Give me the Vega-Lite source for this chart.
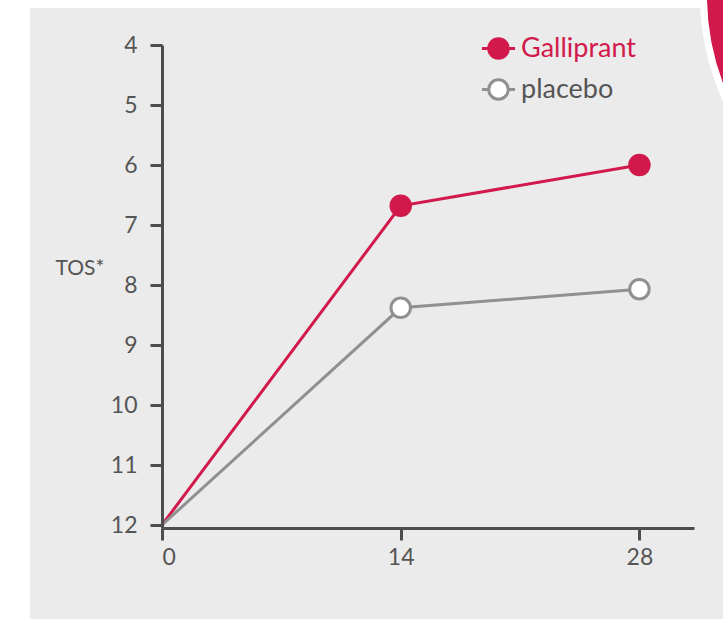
{
  "$schema": "https://vega.github.io/schema/vega-lite/v6.json",
  "autosize": {"type": "none"},
  "padding": {"left": 162, "top": 45, "right": 29, "bottom": 91},
  "width": 532,
  "height": 483,
  "background": "#ffffff",
  "config": {
    "view": {"stroke": null},
    "font": "Lato",
    "axis": {
      "grid": false,
      "domainColor": "#4d4d4d",
      "domainWidth": 3,
      "tickColor": "#4d4d4d",
      "tickWidth": 3,
      "tickSize": 12,
      "labelFontSize": 23,
      "labelColor": "#555555",
      "labelFont": "Lato"
    }
  },
  "data": {
    "values": [
      {"day": 0, "tos": 12, "group": "Galliprant"},
      {"day": 14, "tos": 6.68, "group": "Galliprant"},
      {"day": 28, "tos": 6.0, "group": "Galliprant"},
      {"day": 0, "tos": 12, "group": "placebo"},
      {"day": 14, "tos": 8.38, "group": "placebo"},
      {"day": 28, "tos": 8.07, "group": "placebo"}
    ]
  },
  "layer": [
    {
      "data": {"values": [{"day": -7.74, "day2": 40, "tos": 3.383, "tos2": 13.7}]},
      "mark": {"type": "rect", "fill": "#ebebeb", "clip": false},
      "encoding": {
        "x": {"field": "day", "type": "quantitative"},
        "x2": {"field": "day2"},
        "y": {"field": "tos", "type": "quantitative"},
        "y2": {"field": "tos2"}
      }
    },
    {
      "data": {"values": [{"day": 46.62, "tos": 3.167}]},
      "mark": {"type": "point", "shape": "circle", "filled": true, "fill": "#d2194b", "stroke": "#ffffff", "strokeWidth": 7, "opacity": 1, "size": 257049, "clip": false},
      "encoding": {
        "x": {"field": "day", "type": "quantitative"},
        "y": {"field": "tos", "type": "quantitative"}
      }
    },
    {
      "mark": {"type": "line", "strokeWidth": 3},
      "encoding": {
        "x": {
          "field": "day",
          "type": "quantitative",
          "scale": {"domain": [0, 31.2], "nice": false, "zero": false},
          "axis": {"values": [0, 14, 28], "title": null, "labelPadding": 6, "zindex": 2}
        },
        "y": {
          "field": "tos",
          "type": "quantitative",
          "scale": {"domain": [4, 12.05], "reverse": true, "nice": false, "zero": false},
          "axis": {
            "zindex": 2,
            "values": [4, 5, 6, 7, 8, 9, 10, 11, 12],
            "format": "d",
            "title": "TOS*",
            "titleAngle": 0,
            "titleAlign": "left",
            "titleBaseline": "middle",
            "titleX": -107,
            "titleY": 223,
            "titleFontSize": 21,
            "titleFontWeight": "normal",
            "titleColor": "#555555",
            "labelPadding": 13
          }
        },
        "stroke": {
          "field": "group",
          "type": "nominal",
          "scale": {"domain": ["Galliprant", "placebo"], "range": ["#d2194b", "#909090"]},
          "legend": {
            "title": null,
            "orient": "none",
            "legendX": 323,
            "legendY": -10,
            "padding": 0,
            "symbolType": "M-1.7,0H-1M1,0H1.7M-1,0A1,1 0 1,0 1,0A1,1 0 1,0 -1,0Z",
            "symbolSize": 380,
            "symbolStrokeWidth": 3,
            "labelFontSize": 27,
            "labelOffset": 9,
            "rowPadding": 8,
            "labelColor": "#555555",
            "encode": {
              "labels": {"update": {"fill": {"signal": "datum.value === 'Galliprant' ? '#d2194b' : '#555555'"}}}
            }
          }
        }
      }
    },
    {
      "transform": [{"filter": "datum.day > 0"}],
      "mark": {"type": "point", "shape": "circle", "filled": true, "opacity": 1, "size": 380, "strokeWidth": 3},
      "encoding": {
        "x": {"field": "day", "type": "quantitative"},
        "y": {"field": "tos", "type": "quantitative"},
        "stroke": {"field": "group", "type": "nominal"},
        "fill": {
          "field": "group",
          "type": "nominal",
          "scale": {"domain": ["Galliprant", "placebo"], "range": ["#d2194b", "#ffffff"]},
          "legend": {
            "title": null,
            "orient": "none",
            "legendX": 323,
            "legendY": -10,
            "padding": 0,
            "symbolType": "M-1.7,0H-1M1,0H1.7M-1,0A1,1 0 1,0 1,0A1,1 0 1,0 -1,0Z",
            "symbolSize": 380,
            "symbolStrokeWidth": 3,
            "labelFontSize": 27,
            "labelOffset": 9,
            "rowPadding": 8,
            "labelColor": "#555555",
            "encode": {
              "labels": {"update": {"fill": {"signal": "datum.value === 'Galliprant' ? '#d2194b' : '#555555'"}}}
            }
          }
        }
      }
    }
  ]
}
